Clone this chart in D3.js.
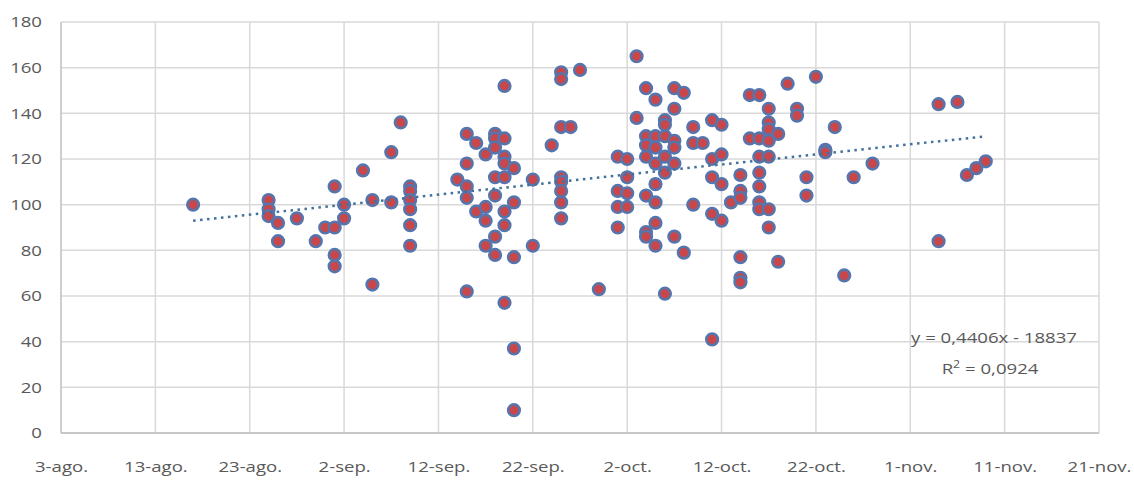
<!DOCTYPE html>
<html lang="es">
<head>
<meta charset="UTF-8">
<title>Dispersión</title>
<script src="https://cdn.jsdelivr.net/npm/d3@7"></script>
<style>
  body { margin: 0; background: #fff; }
  text { font-family: "Open Sans", sans-serif; fill: #595959; }
</style>
</head>
<body>
<script>
// one entry per day, with all the readings of that day
const dates = [
  "2017-08-17", "2017-08-25", "2017-08-26", "2017-08-28", "2017-08-30", "2017-08-31",
  "2017-09-01", "2017-09-02", "2017-09-04", "2017-09-05", "2017-09-07", "2017-09-08",
  "2017-09-09", "2017-09-14", "2017-09-15", "2017-09-16", "2017-09-17", "2017-09-18",
  "2017-09-19", "2017-09-20", "2017-09-22", "2017-09-24", "2017-09-25", "2017-09-26",
  "2017-09-27", "2017-09-29", "2017-10-01", "2017-10-02", "2017-10-03", "2017-10-04",
  "2017-10-05", "2017-10-06", "2017-10-07", "2017-10-08", "2017-10-09", "2017-10-10",
  "2017-10-11", "2017-10-12", "2017-10-13", "2017-10-14", "2017-10-15", "2017-10-16",
  "2017-10-17", "2017-10-18", "2017-10-19", "2017-10-20", "2017-10-21", "2017-10-22",
  "2017-10-23", "2017-10-24", "2017-10-25", "2017-10-26", "2017-10-28", "2017-11-04",
  "2017-11-06", "2017-11-07", "2017-11-08", "2017-11-09"
];
const values = [
  [100], [102, 98, 95], [92, 84], [94], [84], [90],
  [90, 108, 78, 73], [100, 94], [115], [102, 65], [101, 123], [136],
  [108, 106, 102, 98, 91, 82], [111], [131, 118, 108, 103, 62], [127, 97], [122, 99, 93, 82], [131, 129, 125, 112, 104, 86, 78],
  [152, 129, 121, 118, 112, 97, 91, 57], [116, 101, 77, 37, 10], [111, 82], [126], [158, 155, 134, 112, 110, 106, 101, 94], [134],
  [159], [63], [121, 106, 99, 90], [120, 112, 105, 99], [165, 138], [151, 130, 126, 121, 104, 88, 86],
  [146, 130, 125, 118, 109, 101, 92, 82], [137, 135, 130, 121, 114, 61], [151, 142, 128, 125, 118, 86], [149, 79], [134, 127, 100], [127],
  [137, 120, 112, 96, 41], [135, 122, 109, 93], [101], [113, 106, 103, 77, 68, 66], [148, 129], [148, 129, 121, 114, 108, 101, 98],
  [142, 136, 133, 128, 121, 98, 90], [131, 75], [153], [142, 139], [112, 104], [156],
  [124, 123], [134], [69], [112], [118], [144, 84],
  [145], [113], [116], [119]
];

const xTickDates = ["2017-08-03", "2017-08-13", "2017-08-23", "2017-09-02", "2017-09-12", "2017-09-22",
  "2017-10-02", "2017-10-12", "2017-10-22", "2017-11-01", "2017-11-11", "2017-11-21"];
const xTickLabels = ["3-ago.", "13-ago.", "23-ago.", "2-sep.", "12-sep.", "22-sep.",
  "2-oct.", "12-oct.", "22-oct.", "1-nov.", "11-nov.", "21-nov."];
const yTicks = [0, 20, 40, 60, 80, 100, 120, 140, 160, 180];

// linear trend as printed on the chart (x = spreadsheet date serial)
const slope = 0.4406, intercept = -18837;
const eqLabel = "y = 0,4406x - 18837";
const r2Label = "0,0924";

const width = 1134, height = 481;
const plotLeft = 61, plotRight = 1099, plotTop = 22, plotBottom = 433;
const stretch = "scale(1.24,1)"; // the original text is drawn wide

const parse = d3.utcParse("%Y-%m-%d");
const points = [];
dates.forEach((d, i) => values[i].forEach(v => points.push({ date: parse(d), value: v })));

const excelEpoch = Date.UTC(1899, 11, 30);
const serial = d => (d - excelEpoch) / 864e5;

const svg = d3.select("body").append("svg")
  .attr("width", width)
  .attr("height", height);

const x = d3.scaleUtc()
  .domain([parse(xTickDates[0]), parse(xTickDates[xTickDates.length - 1])])
  .range([plotLeft, plotRight]);

const y = d3.scaleLinear()
  .domain([0, 180])
  .range([plotBottom, plotTop]);

// gridlines
svg.append("g")
  .selectAll("line")
  .data(yTicks)
  .join("line")
  .attr("x1", plotLeft).attr("x2", plotRight)
  .attr("y1", d => y(d)).attr("y2", d => y(d))
  .attr("stroke", "#d9d9d9")
  .attr("stroke-width", 1.5);

svg.append("g")
  .selectAll("line")
  .data(xTickDates)
  .join("line")
  .attr("x1", d => x(parse(d))).attr("x2", d => x(parse(d)))
  .attr("y1", plotTop).attr("y2", plotBottom)
  .attr("stroke", (d, i) => i === 0 ? "#bfbfbf" : "#d9d9d9")
  .attr("stroke-width", 1.5);

svg.append("line")
  .attr("x1", plotLeft).attr("x2", plotRight)
  .attr("y1", plotBottom).attr("y2", plotBottom)
  .attr("stroke", "#bfbfbf")
  .attr("stroke-width", 1.5);

// axis labels
const yAxis = d3.axisLeft(y).tickValues(yTicks).tickSize(0).tickPadding(0);
svg.append("g")
  .attr("transform", `translate(${plotLeft - 19},0)`)
  .call(yAxis)
  .call(g => g.select(".domain").remove())
  .selectAll("text")
  .attr("font-size", 15)
  .attr("fill", "#595959")
  .attr("transform", stretch)
  .style("font-family", "'Open Sans', sans-serif");

const xAxis = d3.axisBottom(x)
  .tickValues(xTickDates.map(parse))
  .tickFormat((d, i) => xTickLabels[i])
  .tickSize(0).tickPadding(0);
svg.append("g")
  .attr("transform", `translate(0,${plotBottom + 28})`)
  .call(xAxis)
  .call(g => g.select(".domain").remove())
  .selectAll("text")
  .attr("font-size", 15)
  .attr("fill", "#595959")
  .attr("transform", stretch)
  .style("font-family", "'Open Sans', sans-serif");

// points
svg.append("g")
  .selectAll("circle")
  .data(points)
  .join("circle")
  .attr("cx", d => x(d.date))
  .attr("cy", d => y(d.value))
  .attr("r", 5.8)
  .attr("fill", "#c9474a")
  .attr("stroke", "#5675ac")
  .attr("stroke-width", 2.6);

// trend line
const dMin = d3.min(points, d => d.date), dMax = d3.max(points, d => d.date);
const trend = [dMin, dMax].map(d => ({ date: d, value: slope * serial(d) + intercept }));
svg.append("path")
  .datum(trend)
  .attr("d", d3.line().x(d => x(d.date)).y(d => y(d.value)))
  .attr("fill", "none")
  .attr("stroke", "#41719c")
  .attr("stroke-width", 2.5)
  .attr("stroke-dasharray", "2.5,4.5");

// equation
svg.append("text")
  .attr("transform", `translate(994,343) ${stretch}`)
  .attr("font-size", 15)
  .attr("text-anchor", "middle")
  .text(eqLabel);
const r2Text = svg.append("text")
  .attr("transform", `translate(990,374) ${stretch}`)
  .attr("font-size", 15)
  .attr("text-anchor", "middle");
r2Text.append("tspan").text("R");
r2Text.append("tspan").attr("dy", -6).attr("font-size", 10).text("2");
r2Text.append("tspan").attr("dy", 6).text(" = " + r2Label);
</script>
</body>
</html>
